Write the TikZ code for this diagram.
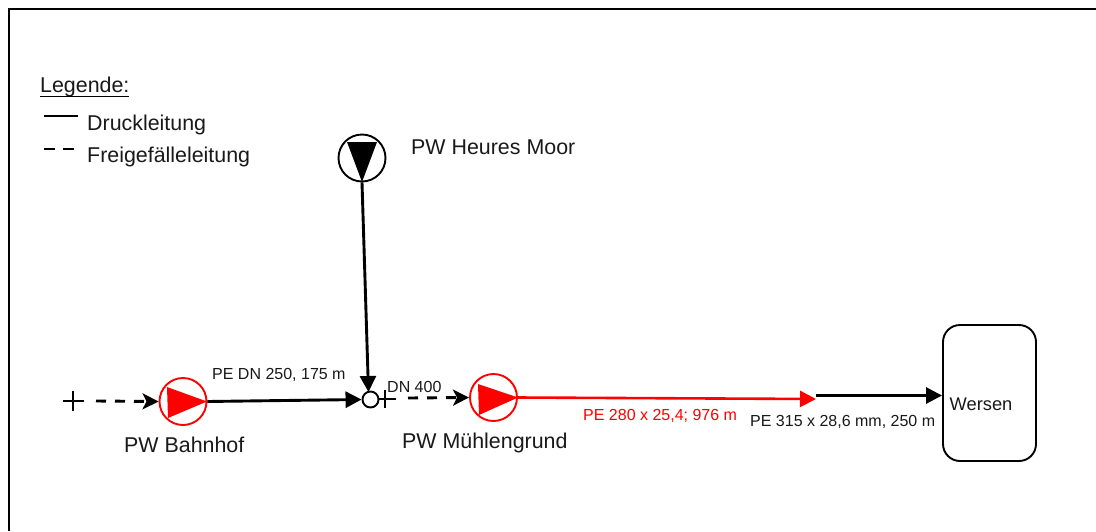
\documentclass[tikz,border=0pt]{standalone}
\usepackage{fontspec}
\setmainfont{Liberation Sans}
\usetikzlibrary{arrows.meta,shapes.geometric}
\tikzset{
  px/.style={x=1pt,y=-1pt},
  pumpcircle/.style={circle,draw=#1,line width=1.9pt,minimum size=47pt,inner sep=0pt,fill=white},
  pipe/.style={line width=2.9pt,-{Triangle[length=16pt,width=16pt]}},
  gravity/.style={line width=2.9pt,-{Stealth[length=16pt,width=16pt,inset=4pt]},dash pattern=on 10pt off 9pt},
  big/.style={font=\fontsize{21.4}{25}\selectfont,text=black!90,inner sep=0pt},
  small/.style={font=\fontsize{16}{19}\selectfont,text=black!90,inner sep=0pt},
  tick/.style={line width=1.8pt},
}
\begin{document}
\begin{tikzpicture}[px]
\useasboundingbox (0,0) rectangle (1096,531);
\draw[line width=2.2pt] (9,531) -- (9,9) -- (1096,9);
% legend
\node[big,anchor=base west] (leg) at (40,92) {Legende:};
\coordinate (lu1) at (40,96.5); \coordinate (lu2) at (129,96.5);
\draw[line width=1.4pt] (lu1) -- (lu2);
\coordinate (l1a) at (44,116); \coordinate (l1b) at (78,116);
\draw[line width=2.9pt] (l1a) -- (l1b);
\node[big,anchor=base west] (ld) at (87,130) {Druckleitung};
\coordinate (l2a) at (44,149); \coordinate (l2b) at (74,149);
\draw[line width=2.9pt,dash pattern=on 11pt off 8pt] (l2a) -- (l2b);
\node[big,anchor=base west] (lf) at (87,162) {Freigefälleleitung};
% pumps
\node[pumpcircle=black] (moor) at (362,158) {};
\fill[black] (347,142) -- (377,142) -- (362,182) -- cycle;
\node[big,anchor=base west] (moorl) at (411,154) {PW Heures Moor};
\node[pumpcircle=red] (bahn) at (183,401.5) {};
\fill[red] (167,387) -- (207,401.5) -- (168,418) -- cycle;
\node[big,anchor=base west] (bahnl) at (124,452) {PW Bahnhof};
\node[pumpcircle=red] (muehle) at (493.5,397.5) {};
\fill[red] (478,384) -- (518,397.5) -- (479,415) -- cycle;
\node[big,anchor=base west] (muehlel) at (402,448) {PW Mühlengrund};
% junction
\node[circle,draw=black,line width=1.9pt,minimum size=16pt,inner sep=0pt,fill=white] (junc) at (370.5,399.5) {};
% crosses
\coordinate (p1c) at (73,401);
\draw[tick] (63,401) -- (84,401) (73,391) -- (73,411);
\coordinate (p2c) at (385,399);
\draw[tick] (379,399) -- (396,399) (385,390) -- (385,408);
% pipes
\coordinate (g1s) at (96,401);
\draw[gravity] (g1s) -- (bahn.west);
\draw[pipe] (bahn.east) -- (junc.west);
\coordinate (jtop) at (368.5,392);
\draw[pipe] (moor.south) -- (jtop);
\coordinate (g2s) at (408,398);
\draw[gravity] (g2s) -- (muehle.west);
\coordinate (redend) at (816,399);
\draw[line width=2.6pt,draw=red,-{Triangle[length=16pt,width=16pt,red]}] (muehle.east) -- (redend);
\node[draw=black,line width=1.9pt,rounded corners=17pt,minimum width=93pt,minimum height=136pt,inner sep=0pt] (wersen) at (989.5,393) {};
\coordinate (wstart) at (816,395.5);
\draw[pipe] (wstart) -- (wersen.west |- wstart);
% labels
\node[small,anchor=base west] (a) at (212,379) {PE DN 250, 175 m};
\node[small,anchor=base west] (b) at (387,392) {DN 400};
\node[small,anchor=base west,text=red] (c) at (583,420) {PE 280 x 25,4; 976 m};
\node[small,anchor=base west] (d) at (750,426) {PE 315 x 28,6 mm, 250 m};
\node[font=\fontsize{18.3}{22}\selectfont,text=black!90,inner sep=0pt,anchor=base west] (wl) at (949.5,410) {Wersen};
\end{tikzpicture}
\end{document}
